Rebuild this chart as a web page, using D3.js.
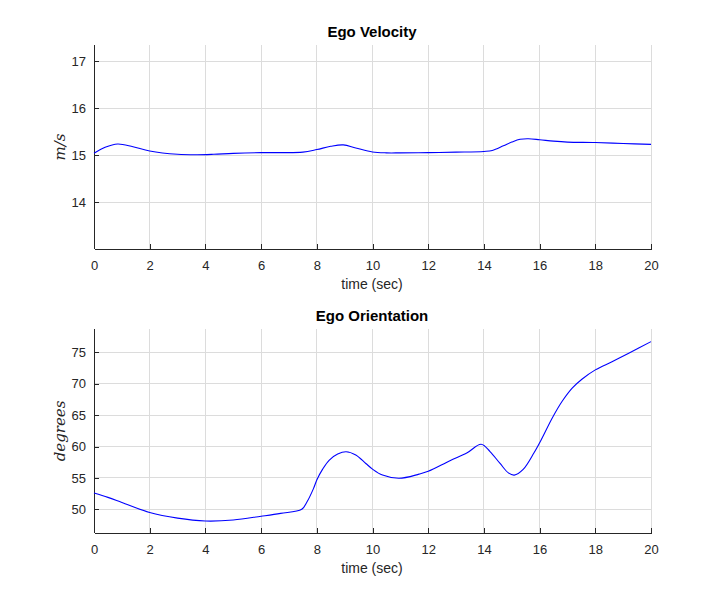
<!DOCTYPE html>
<html><head><meta charset="utf-8">
<script src="https://cdn.jsdelivr.net/npm/d3@7"></script>
<style>body{margin:0;background:#fff;}svg{display:block;}</style>
</head><body>
<script>
const velT = [0,0.4,0.85,1.4,2,3,3.7,4.3,5,6,6.7,7.5,8,8.5,8.95,9.4,10,10.5,11,12,13,14,14.3,14.7,15,15.3,15.6,16,16.5,17,18,19,20];
const velV = [15.04,15.17,15.24,15.18,15.09,15.02,15.01,15.02,15.04,15.055,15.055,15.065,15.12,15.19,15.22,15.155,15.07,15.05,15.05,15.055,15.065,15.08,15.10,15.2,15.28,15.34,15.35,15.33,15.30,15.28,15.27,15.25,15.23];
const oriT = [0,0.5,1,2,3,4,5,6,6.7,7.46,7.65,7.88,8,8.21,8.45,8.75,9.05,9.4,9.76,10,10.36,10.95,11.67,12,12.78,13.4,13.9,14.22,14.58,14.88,15.09,15.41,15.8,16.05,16.45,16.81,17.17,17.53,18,18.6,19.2,20];
const oriV = [52.6,51.9,51.1,49.5,48.6,48.14,48.3,48.9,49.36,50.0,51.2,53.3,54.67,56.4,57.85,58.8,59.17,58.65,57.3,56.4,55.45,54.94,55.6,56.05,57.74,59.0,60.35,59.2,57.3,55.8,55.45,56.35,59.0,61.0,64.5,67.2,69.3,70.75,72.2,73.5,74.85,76.7];
const xTicks = [0,2,4,6,8,10,12,14,16,18,20];
const velTicks = [14,15,16,17];
const oriTicks = [50,55,60,65,70,75];

const W=720,H=600;
const svg=d3.select("body").append("svg").attr("width",W).attr("height",H);
const font="'Liberation Sans', Arial, Helvetica, sans-serif";
const dark="#262626";

function panel(cfg){
  const x=d3.scaleLinear().domain([0,20]).range([94,651]);
  const y=d3.scaleLinear().domain(cfg.ydom).range([cfg.bottom,cfg.top]);
  const g=svg.append("g");
  g.selectAll(".gx").data(xTicks).enter().append("line")
    .attr("x1",d=>x(d)).attr("x2",d=>x(d)).attr("y1",cfg.top).attr("y2",cfg.bottom)
    .attr("stroke","#dcdcdc").attr("stroke-width",1).attr("shape-rendering","crispEdges");
  g.selectAll(".gy").data(cfg.ticks).enter().append("line")
    .attr("x1",94).attr("x2",651).attr("y1",d=>y(d)).attr("y2",d=>y(d))
    .attr("stroke","#dcdcdc").attr("stroke-width",1).attr("shape-rendering","crispEdges");
  const xa=g.append("g").attr("transform",`translate(0,${cfg.bottom})`)
    .call(d3.axisBottom(x).tickValues(xTicks).tickFormat(d3.format("d")).tickSizeInner(-5).tickSizeOuter(0).tickPadding(12));
  const ya=g.append("g").attr("transform",`translate(94,0)`)
    .call(d3.axisLeft(y).tickValues(cfg.ticks).tickFormat(d3.format("d")).tickSizeInner(-5).tickSizeOuter(0).tickPadding(8));
  [xa,ya].forEach(a=>{
    a.select(".domain").attr("stroke",dark).attr("stroke-width",1).attr("shape-rendering","crispEdges");
    a.selectAll(".tick line").attr("stroke",dark).attr("shape-rendering","crispEdges");
    a.selectAll("text").attr("fill",dark).style("font-family",font).style("font-size","13px");
  });
  xa.select(".domain").attr("d",`M94.5,0.5H651.5`);
  ya.select(".domain").attr("d",`M0.5,${cfg.bottom}V${cfg.top}`);
  const line=d3.line().x(d=>x(d[0])).y(d=>y(d[1])).curve(d3.curveCatmullRom.alpha(0.5));
  g.append("path").datum(cfg.t.map((t,i)=>[t,cfg.v[i]]))
    .attr("d",line).attr("fill","none").attr("stroke","#0000ff").attr("stroke-width",1.1);
  g.append("text").attr("x",372).attr("y",cfg.top-8).attr("text-anchor","middle")
    .style("font-family",font).style("font-size","15px").style("font-weight","bold").attr("fill","#000").text(cfg.title);
  g.append("text").attr("x",372).attr("y",cfg.bottom+40).attr("text-anchor","middle")
    .style("font-family",font).style("font-size","14px").attr("fill",dark).text("time (sec)");
  g.append("text").attr("transform",`translate(65,${(cfg.top+cfg.bottom)/2}) rotate(-90)`).attr("text-anchor","middle")
    .style("font-family","'DejaVu Serif', 'Liberation Serif', serif").style("font-style","italic").style("font-size","15px").attr("fill",dark).text(cfg.ylabel);
}
panel({top:45,bottom:249,ydom:[13,17.35],ticks:velTicks,t:velT,v:velV,title:"Ego Velocity",ylabel:"m/s"});
panel({top:329,bottom:533,ydom:[46.23,78.71],ticks:oriTicks,t:oriT,v:oriV,title:"Ego Orientation",ylabel:"degrees"});
</script>
</body></html>
